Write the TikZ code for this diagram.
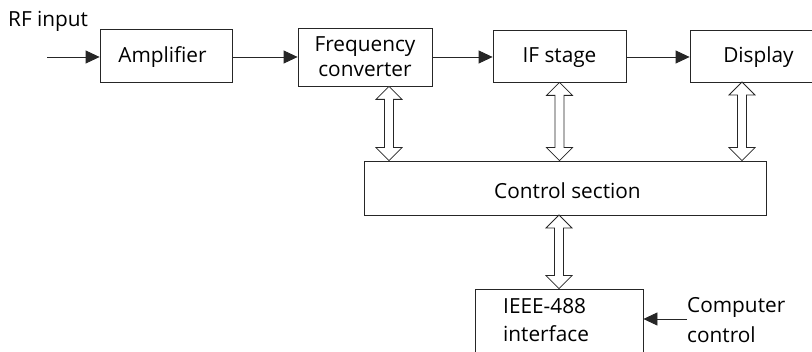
\documentclass[tikz,border=0pt]{standalone}
\usepackage{fontspec}
\setmainfont{Open Sans}
\usetikzlibrary{arrows.meta,calc}
\tikzset{
  blk/.style={draw=black!85, line width=0.8pt, inner sep=0pt, align=center, font=\fontsize{20.8}{25}\selectfont},
  lbl/.style={inner sep=0pt, align=left, font=\fontsize{20.8}{28.5}\selectfont},
  sig/.style={draw=black!85, line width=0.8pt, -{Triangle[length=14pt,width=13pt]}},
  bus/.style={draw=black!85, line width=0.8pt, fill=white, line join=miter}
}
\newcommand\biarrow[2]{%
  \path[bus] let \p1=#1, \p2=#2 in
    (\x1,\y1) -- (\x1+13,\y1-13) -- (\x1+4.5,\y1-13) -- (\x1+4.5,\y2+13)
    -- (\x1+13,\y2+13) -- (\x1,\y2) -- (\x1-13,\y2+13) -- (\x1-4.5,\y2+13)
    -- (\x1-4.5,\y1-13) -- (\x1-13,\y1-13) -- cycle;}
\begin{document}
\begin{tikzpicture}[x=1pt,y=1pt]
\useasboundingbox (0,0) rectangle (812,-352);
\clip (0,0) rectangle (812,-352);
\node[blk, minimum width=132, minimum height=53] (amp) at (166,-55.5) {};
\node[lbl, anchor=base] (amptxt) at (162.5,-63) {Amplifier};
\node[blk, minimum width=134, minimum height=58] (fc) at (365,-57) {};
\node[lbl, anchor=base, align=center, font=\fontsize{20.8}{25}\selectfont] (fctxt) at (365,-77) {Frequency\\converter};
\node[blk, minimum width=133, minimum height=52] (ifs) at (559.5,-56) {};
\node[lbl, anchor=base] (ifstxt) at (559.5,-63) {IF stage};
\node[blk, minimum width=140, minimum height=52] (disp) at (760,-56) {};
\node[lbl, anchor=base] (disptxt) at (758.5,-63) {Display};
\node[blk, minimum width=402, minimum height=54] (ctrl) at (565,-188) {};
\node[lbl, anchor=base] (ctrltxt) at (567.5,-199) {Control section};
\node[blk, minimum width=168, minimum height=81] (ieee) at (559,-329.5) {};
\node[lbl, anchor=base west] (ieeetxt) at (503,-342) {IEEE-488\\interface};
\node[lbl, anchor=base west] (rf) at (8,-26.5) {RF input};
\node[lbl, anchor=base west, font=\fontsize{20.8}{30}\selectfont] (cctxt) at (687,-343) {Computer\\control};
\coordinate (in) at (47,-57);
\coordinate (cc) at (687,-319);
\draw[sig] (in) -- (amp.west |- in);
\draw[sig] (amp.east |- in) -- (fc.west |- in);
\draw[sig] (fc.east |- in) -- (ifs.west |- in);
\draw[sig] (ifs.east |- in) -- (disp.west |- in);
\draw[sig] (cc) -- (ieee.east |- cc);
\coordinate (a1) at ($(fc.south)+(24,0)$);
\coordinate (a2) at (ifs.south);
\coordinate (a3) at (742,-82);
\biarrow{(a1)}{(a1 |- ctrl.north)}
\biarrow{(a2)}{(a2 |- ctrl.north)}
\biarrow{(a3)}{(a3 |- ctrl.north)}
\coordinate (a4) at (559,-215);
\biarrow{(a4)}{(a4 |- ieee.north)}
\end{tikzpicture}
\end{document}
